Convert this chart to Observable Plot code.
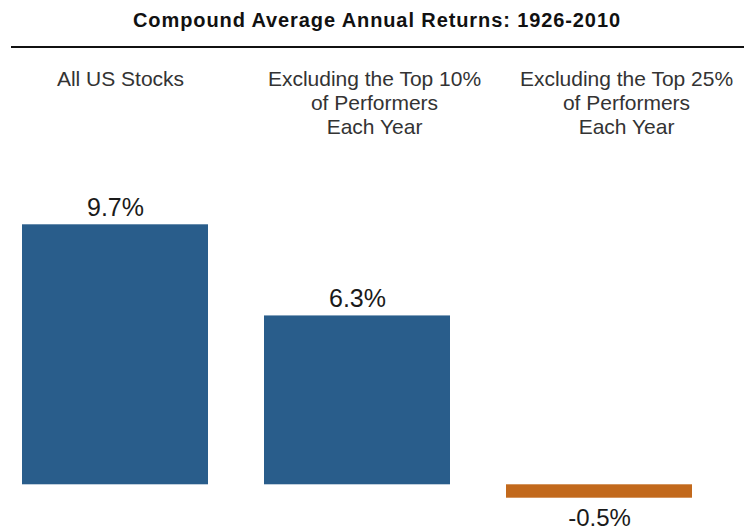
<!DOCTYPE html>
<html>
<head>
<meta charset="utf-8">
<script src="https://cdn.jsdelivr.net/npm/d3@7"></script>
<script src="https://cdn.jsdelivr.net/npm/@observablehq/plot@0.6"></script>
<style>
  html, body { margin: 0; padding: 0; background: #fff; }
  #wrap { position: relative; width: 747px; height: 531px; overflow: hidden; font-family: "Liberation Sans", Arial, sans-serif; }
  #title { position: absolute; left: 7px; top: 10px; width: 740px; text-align: center; font-size: 20px; line-height: 20px; font-weight: bold; letter-spacing: 0.9px; color: #111; }
  #rule { position: absolute; left: 11px; top: 45.5px; width: 733px; height: 2px; background: #111; }
  #chart { position: absolute; left: 0; top: 48px; }
</style>
</head>
<body>
<div id="wrap">
  <div id="title">Compound Average Annual Returns: 1926-2010</div>
  <div id="rule"></div>
  <div id="chart"></div>
</div>
<script>
const categories = [
  "All US Stocks",
  "Excluding the Top 10%\nof Performers\nEach Year",
  "Excluding the Top 25%\nof Performers\nEach Year"
];
const values = [9.7, 6.3, -0.5];
const valueLabels = ["9.7%", "6.3%", "-0.5%"];

const data = categories.map((c, i) => ({category: c, value: values[i], label: valueLabels[i]}));
const pos = data.filter(d => d.value >= 0);
const neg = data.filter(d => d.value < 0);
const labelShift = [5, 17, 27];

const font = "Liberation Sans, Arial, sans-serif";

const plot = Plot.plot({
  width: 747,
  height: 483,
  marginLeft: 0,
  marginRight: 33,
  marginTop: 176.3,
  marginBottom: 33.3,
  style: {fontFamily: font, background: "#fff", overflow: "visible"},
  x: {domain: categories, paddingInner: 0.2314, paddingOuter: 0.0909, axis: null},
  y: {axis: null},
  color: {domain: ["pos", "neg"], range: ["#295d8b", "#c2691c"]},
  marks: [
    Plot.barY(data, {x: "category", y: "value", fill: d => d.value < 0 ? "neg" : "pos"}),
    Plot.text(pos, {x: "category", y: "value", text: "label", lineAnchor: "middle", dy: -17, fontSize: 25, fill: "#1a1a1a"}),
    Plot.text(neg, {x: "category", y: "value", text: "label", lineAnchor: "middle", dy: 20, fontSize: 24, fill: "#1a1a1a"}),
    ...categories.map((c, i) => Plot.text([c], {
      x: d => d, text: d => d, frameAnchor: "top", lineAnchor: "top",
      dy: -156, dx: labelShift[i], fontSize: 21, lineHeight: 1.143, fill: "#333"
    }))
  ]
});
document.getElementById("chart").appendChild(plot);
</script>
</body>
</html>
